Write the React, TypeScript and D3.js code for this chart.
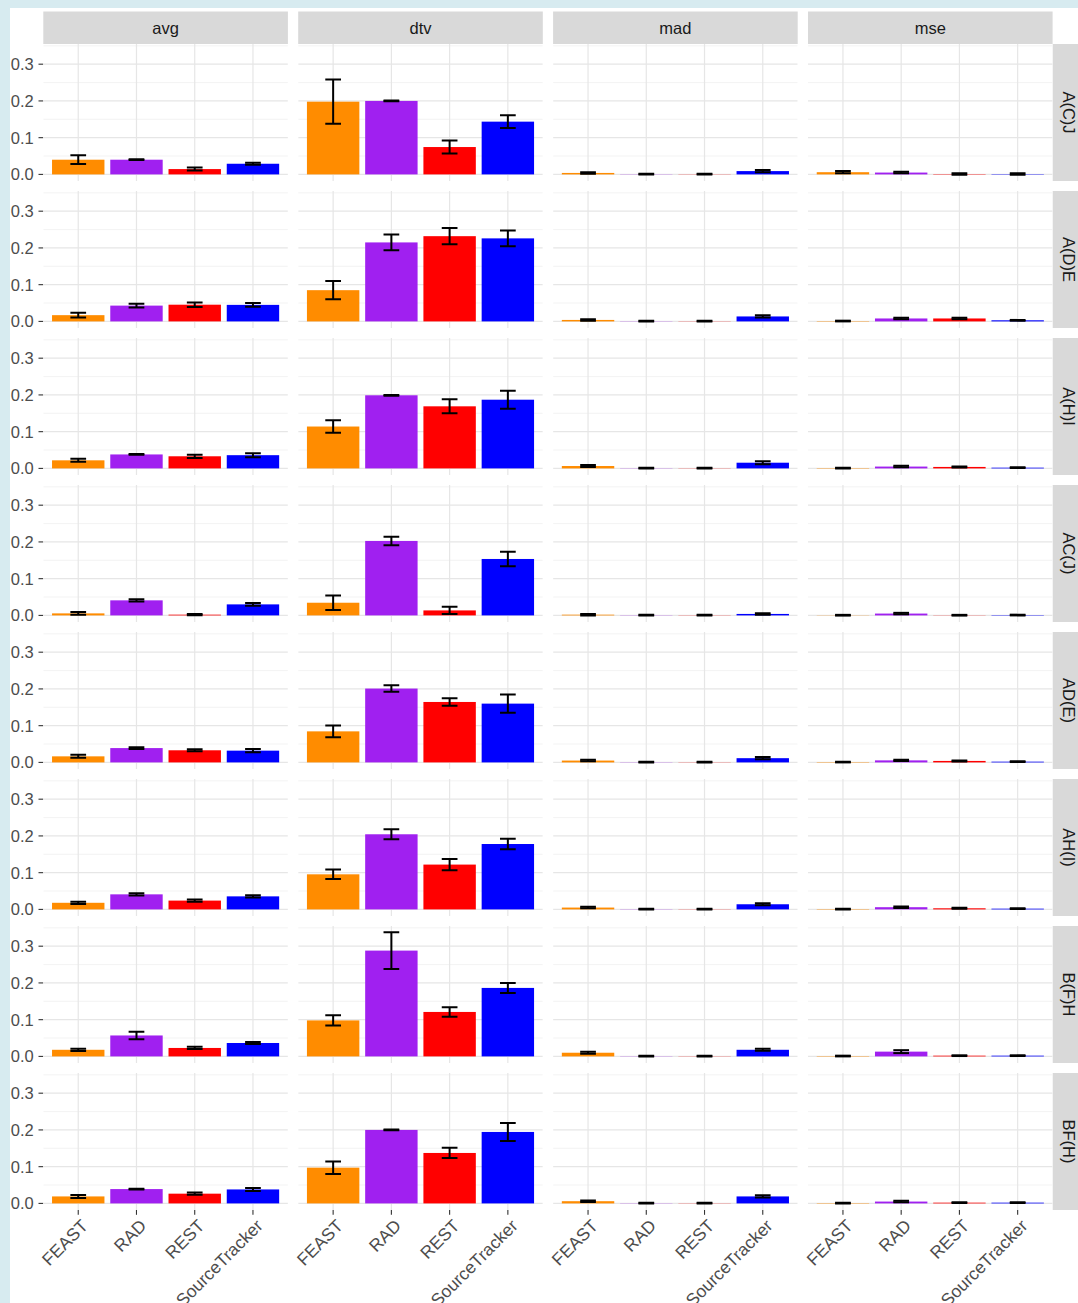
import React from "react";
import * as d3 from "d3";

// Facet grid: rows are source profiles, columns are error metrics.
const methods = ["FEAST", "RAD", "REST", "SourceTracker"];
const metrics = ["avg", "dtv", "mad", "mse"];
const profiles = ["A(C)J", "A(D)E", "A(H)I", "AC(J)", "AD(E)", "AH(I)", "B(F)H", "BF(H)"];
const methodColors = ["#ff8c00", "#a020f0", "#ff0000", "#0000ff"];

const yTicks = [0, 0.1, 0.2, 0.3];
const yTickLabels = ["0.0", "0.1", "0.2", "0.3"];
const yMinor = [0.05, 0.15, 0.25, 0.35];

// Mean values per profile (rows) and method (FEAST, RAD, REST, SourceTracker)
const avgMean = [
  [0.040, 0.040, 0.0145, 0.029],
  [0.017, 0.043, 0.0455, 0.045],
  [0.022, 0.038, 0.033, 0.036],
  [0.0055, 0.041, 0.002, 0.030],
  [0.0165, 0.039, 0.033, 0.032],
  [0.018, 0.041, 0.024, 0.0355],
  [0.018, 0.057, 0.023, 0.0365],
  [0.019, 0.039, 0.0265, 0.038],
];
const avgErr = [
  [0.012, 0.001, 0.004, 0.003],
  [0.0065, 0.005, 0.006, 0.005],
  [0.004, 0.001, 0.0045, 0.0055],
  [0.004, 0.003, 0.0015, 0.004],
  [0.004, 0.0025, 0.0025, 0.0045],
  [0.003, 0.003, 0.003, 0.003],
  [0.003, 0.010, 0.003, 0.0025],
  [0.004, 0.001, 0.003, 0.004],
];
const dtvMean = [
  [0.198, 0.200, 0.0745, 0.1436],
  [0.085, 0.215, 0.232, 0.226],
  [0.114, 0.199, 0.169, 0.187],
  [0.0345, 0.2027, 0.0136, 0.1536],
  [0.0845, 0.201, 0.1645, 0.160],
  [0.0955, 0.2045, 0.122, 0.178],
  [0.098, 0.288, 0.121, 0.1864],
  [0.0973, 0.200, 0.1373, 0.1945],
];
const dtvErr = [
  [0.060, 0.001, 0.0175, 0.0175],
  [0.025, 0.0215, 0.022, 0.0215],
  [0.017, 0.001, 0.019, 0.0245],
  [0.0195, 0.0115, 0.010, 0.0195],
  [0.016, 0.009, 0.010, 0.025],
  [0.013, 0.0135, 0.0155, 0.0145],
  [0.014, 0.050, 0.013, 0.0135],
  [0.017, 0.001, 0.014, 0.0245],
];
const madMean = [
  [0.004, 0.0005, 0.0005, 0.009],
  [0.004, 0.0005, 0.0005, 0.0135],
  [0.0065, 0.0005, 0.0005, 0.0155],
  [0.002, 0.0005, 0.0005, 0.004],
  [0.005, 0.0005, 0.0005, 0.0115],
  [0.005, 0.0005, 0.0005, 0.014],
  [0.010, 0.0005, 0.0005, 0.018],
  [0.006, 0.0005, 0.0005, 0.019],
];
const madErr = [
  [0.002, 0.001, 0.001, 0.003],
  [0.002, 0.001, 0.001, 0.003],
  [0.003, 0.001, 0.001, 0.004],
  [0.002, 0.001, 0.001, 0.002],
  [0.002, 0.001, 0.001, 0.003],
  [0.002, 0.001, 0.001, 0.003],
  [0.003, 0.001, 0.001, 0.0025],
  [0.002, 0.001, 0.001, 0.003],
];
const mseMean = [
  [0.006, 0.005, 0.001, 0.001],
  [0.001, 0.008, 0.008, 0.003],
  [0.001, 0.005, 0.004, 0.002],
  [0.0005, 0.005, 0.0005, 0.001],
  [0.001, 0.0055, 0.004, 0.002],
  [0.001, 0.006, 0.003, 0.002],
  [0.001, 0.013, 0.002, 0.002],
  [0.001, 0.005, 0.002, 0.002],
];
const mseErr = [
  [0.003, 0.002, 0.002, 0.002],
  [0.001, 0.002, 0.002, 0.001],
  [0.001, 0.002, 0.0015, 0.001],
  [0.001, 0.002, 0.001, 0.001],
  [0.001, 0.002, 0.0015, 0.001],
  [0.001, 0.002, 0.0015, 0.001],
  [0.001, 0.004, 0.001, 0.001],
  [0.001, 0.002, 0.001, 0.001],
];

const meanTables = [avgMean, dtvMean, madMean, mseMean];
const errTables = [avgErr, dtvErr, madErr, mseErr];

// Layout
const W = 1078;
const H = 1303;
const FONT = "'Liberation Sans', Arial, Helvetica, sans-serif";
const panelLeft0 = 43.3;
const panelW = 244.6;
const gapX = 10.3;
const panelTop0 = 44;
const panelH = 137;
const gapY = 10;
const stripH = 32.5;

export default function App() {
  // Shared y range: data extent with 5% expansion on both sides
  const allHi: number[] = [];
  const allLo: number[] = [0];
  meanTables.forEach((t, c) =>
    t.forEach((row, r) =>
      row.forEach((v, m) => {
        allHi.push(v + errTables[c][r][m]);
        allLo.push(v - errTables[c][r][m]);
      })
    )
  );
  const yMax = d3.max(allHi) as number;
  const yMin = d3.min(allLo) as number;
  const span = yMax - yMin;
  const yDomain: [number, number] = [yMin - 0.05 * span, yMax + 0.05 * span];

  const colLeft = (c: number) => panelLeft0 + c * (panelW + gapX);
  const rowTop = (r: number) => panelTop0 + r * (panelH + gapY);
  const lastRight = colLeft(metrics.length - 1) + panelW;
  const bottomRow = profiles.length - 1;

  return (
    <div style={{ position: "absolute", left: 0, top: 0 }}>
      <svg width={W} height={H} style={{ display: "block", fontFamily: FONT }}>
        <rect x={0} y={0} width={W} height={H} fill="#d7ebf0" />
        <rect x={10} y={8} width={W - 10} height={H - 8} fill="#ffffff" />

        {/* column strips */}
        {metrics.map((m, c) => (
          <g key={"cs" + m}>
            <rect x={colLeft(c)} y={panelTop0 - stripH} width={panelW} height={stripH} fill="#d9d9d9" />
            <text
              x={colLeft(c) + panelW / 2}
              y={panelTop0 - stripH / 2}
              textAnchor="middle"
              dominantBaseline="central"
              fontSize={16.5}
              fill="#1a1a1a"
            >
              {m}
            </text>
          </g>
        ))}

        {profiles.map((p, r) => {
          const top = rowTop(r);
          const y = d3.scaleLinear().domain(yDomain).range([top + panelH, top]);
          return (
            <g key={"row" + p}>
              {/* row strip */}
              <rect x={lastRight} y={top} width={stripH} height={panelH} fill="#d9d9d9" />
              <text
                transform={`translate(${lastRight + stripH / 2},${top + panelH / 2}) rotate(90)`}
                textAnchor="middle"
                dominantBaseline="central"
                fontSize={16.5}
                fill="#1a1a1a"
              >
                {p}
              </text>

              {/* y axis */}
              {yTicks.map((t, i) => (
                <g key={"yt" + i}>
                  <line x1={panelLeft0 - 4.8} x2={panelLeft0} y1={y(t)} y2={y(t)} stroke="#333333" strokeWidth={1.1} />
                  <text
                    x={panelLeft0 - 9.5}
                    y={y(t)}
                    textAnchor="end"
                    dominantBaseline="central"
                    fontSize={16.5}
                    fill="#4d4d4d"
                  >
                    {yTickLabels[i]}
                  </text>
                </g>
              ))}

              {metrics.map((metric, c) => {
                const left = colLeft(c);
                const x = d3
                  .scaleBand<string>()
                  .domain(methods)
                  .range([left, left + panelW])
                  .paddingInner(0.1)
                  .paddingOuter(0.15);
                const bw = x.bandwidth();
                const step = x.step();
                const capHalf = step * 0.135;
                const means = meanTables[c][r];
                const errs = errTables[c][r];
                const clipId = `clip-${r}-${c}`;
                return (
                  <g key={"p" + metric}>
                    <clipPath id={clipId}>
                      <rect x={left} y={top} width={panelW} height={panelH} />
                    </clipPath>
                    <g clipPath={`url(#${clipId})`}>
                      <rect x={left} y={top} width={panelW} height={panelH} fill="#ffffff" />
                      {yMinor.map((t, i) => (
                        <line key={"mn" + i} x1={left} x2={left + panelW} y1={y(t)} y2={y(t)} stroke="#f0f0f0" strokeWidth={0.8} />
                      ))}
                      {yTicks.map((t, i) => (
                        <line key={"mj" + i} x1={left} x2={left + panelW} y1={y(t)} y2={y(t)} stroke="#e6e6e6" strokeWidth={1.2} />
                      ))}
                      {methods.map((m) => {
                        const cx = (x(m) as number) + bw / 2;
                        return (
                          <line key={"vx" + m} x1={cx} x2={cx} y1={top} y2={top + panelH} stroke="#e6e6e6" strokeWidth={1.2} />
                        );
                      })}
                      {methods.map((m, i) => {
                        const v = means[i];
                        return (
                          <rect
                            key={"bar" + m}
                            x={x(m) as number}
                            y={Math.min(y(v), y(0))}
                            width={bw}
                            height={Math.abs(y(0) - y(v))}
                            fill={methodColors[i]}
                          />
                        );
                      })}
                      {methods.map((m, i) => {
                        const cx = (x(m) as number) + bw / 2;
                        const hi = y(means[i] + errs[i]);
                        const lo = y(means[i] - errs[i]);
                        return (
                          <g key={"eb" + m} stroke="#000000" strokeWidth={2} fill="none">
                            <line x1={cx} x2={cx} y1={hi} y2={lo} />
                            <line x1={cx - capHalf} x2={cx + capHalf} y1={hi} y2={hi} />
                            <line x1={cx - capHalf} x2={cx + capHalf} y1={lo} y2={lo} />
                          </g>
                        );
                      })}
                    </g>

                    {/* x axis on the bottom row */}
                    {r === bottomRow &&
                      methods.map((m) => {
                        const cx = (x(m) as number) + bw / 2;
                        const by = top + panelH;
                        return (
                          <g key={"xt" + m}>
                            <line x1={cx} x2={cx} y1={by} y2={by + 4.8} stroke="#333333" strokeWidth={1.1} />
                            <text
                              transform={`translate(${cx + 2},${by + 8}) rotate(-45)`}
                              textAnchor="end"
                              dy="0.72em"
                              fontSize={17.5}
                              fill="#4d4d4d"
                            >
                              {m}
                            </text>
                          </g>
                        );
                      })}
                  </g>
                );
              })}
            </g>
          );
        })}
      </svg>
    </div>
  );
}
